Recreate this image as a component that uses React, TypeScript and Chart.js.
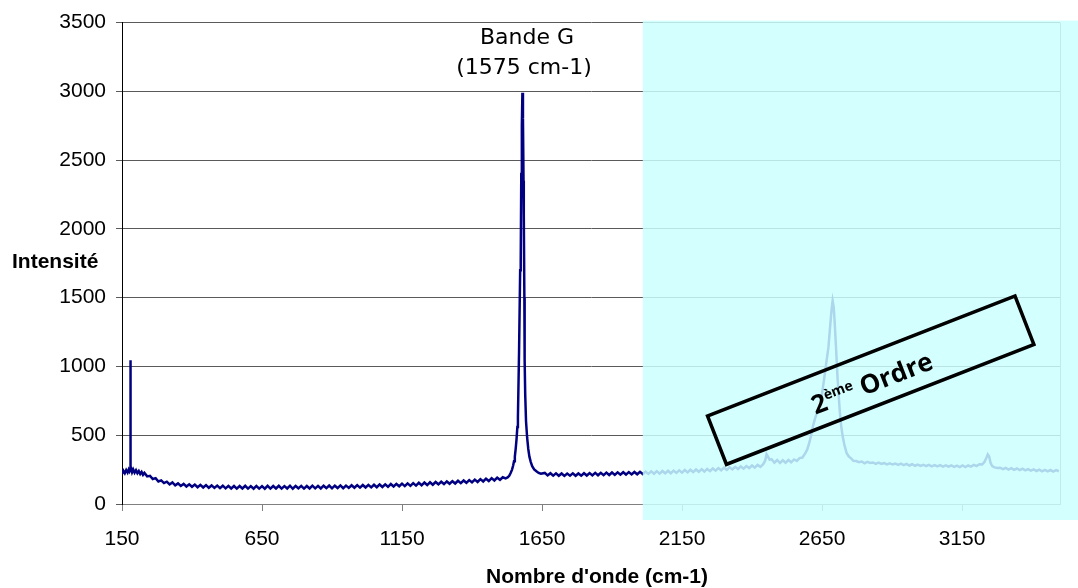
import { useEffect, useRef } from 'react';
import { Chart, registerables } from 'chart.js';

Chart.register(...registerables);

// Raman shift (cm-1)
const wavenumbers: number[] = [
  150, 155, 160, 165, 170, 174, 177, 179, 180, 181,
  183, 186, 190, 195, 200, 205, 210, 215, 220, 225,
  230, 240, 250, 260, 270, 280, 290, 300, 310, 320,
  330, 340, 350, 360, 370, 380, 390, 400, 410, 420,
  430, 440, 450, 460, 470, 480, 490, 500, 510, 520,
  530, 540, 550, 560, 570, 580, 590, 600, 610, 620,
  630, 640, 650, 660, 670, 680, 690, 700, 710, 720,
  730, 740, 750, 760, 770, 780, 790, 800, 810, 820,
  830, 840, 850, 860, 870, 880, 890, 900, 910, 920,
  930, 940, 950, 960, 970, 980, 990, 1000, 1010, 1020,
  1030, 1040, 1050, 1060, 1070, 1080, 1090, 1100, 1110, 1120,
  1130, 1140, 1150, 1160, 1170, 1180, 1190, 1200, 1210, 1220,
  1230, 1240, 1250, 1260, 1270, 1280, 1290, 1300, 1310, 1320,
  1330, 1340, 1350, 1360, 1370, 1380, 1390, 1400, 1410, 1420,
  1430, 1440, 1450, 1460, 1470, 1480, 1490, 1500, 1510,
  1520, 1527, 1533, 1538, 1543, 1547, 1550, 1553, 1556, 1559,
  1562, 1564, 1568, 1572, 1574, 1576, 1578, 1580, 1582, 1584,
  1585, 1587, 1588, 1590, 1593, 1597, 1601, 1605, 1610, 1615,
  1622, 1630, 1638, 1646,
  1660, 1670, 1680, 1690, 1700, 1710, 1720, 1730, 1740, 1750,
  1760, 1770, 1780, 1790, 1800, 1810, 1820, 1830, 1840, 1850,
  1860, 1870, 1880, 1890, 1900, 1910, 1920, 1930, 1940, 1950,
  1960, 1970, 1980, 1990, 2000, 2010, 2020, 2030, 2040, 2050,
  2060, 2070, 2080, 2090, 2100, 2110, 2120, 2130, 2140, 2150,
  2160, 2170, 2180, 2190, 2200, 2210, 2220, 2230, 2240, 2250,
  2260, 2270, 2280, 2290, 2300, 2310, 2320, 2330, 2340, 2350,
  2360, 2370, 2380, 2390, 2400, 2410, 2420, 2430, 2440, 2447,
  2452, 2457, 2463, 2470, 2480, 2490, 2500, 2510, 2520, 2530,
  2540, 2550, 2560, 2570, 2580, 2590, 2597, 2604, 2610, 2617,
  2625, 2632, 2638, 2643, 2650, 2657, 2665, 2673, 2679, 2684,
  2688, 2692, 2695, 2700, 2706, 2710, 2714, 2719, 2724, 2730,
  2738, 2746, 2754, 2762, 2772, 2782, 2792, 2802, 2812, 2822,
  2832, 2842, 2852, 2862, 2872, 2882, 2892, 2902, 2912, 2922,
  2932, 2942, 2952, 2962, 2972, 2982, 2992, 3002, 3012, 3022,
  3032, 3042, 3052, 3062, 3072, 3082, 3092, 3102, 3112, 3122,
  3132, 3142, 3152, 3162, 3172, 3182, 3192, 3202, 3212, 3222,
  3230, 3236, 3242, 3247, 3252, 3258, 3266, 3276, 3286, 3296,
  3306, 3316, 3326, 3336, 3346, 3356, 3366, 3376, 3386, 3396,
  3406, 3416, 3426, 3436, 3446, 3456, 3466, 3476, 3486, 3496,
];

// Intensité (a.u.)
const intensity: number[] = [
  218, 242, 224, 247, 229, 250, 236, 245, 1045, 252,
  256, 231, 251, 228, 246, 224, 240, 218, 233, 212,
  226, 201, 205, 182, 188, 164, 172, 152, 162, 142,
  157, 136, 150, 131, 146, 127, 143, 125, 141, 122,
  139, 120, 137, 118, 135, 117, 134, 115, 133, 114,
  132, 113, 131, 112, 131, 113, 132, 112, 130, 111,
  131, 112, 130, 111, 132, 112, 131, 113, 132, 112,
  130, 113, 133, 111, 131, 114, 132, 112, 131, 113,
  133, 114, 132, 113, 133, 115, 134, 114, 133, 116,
  135, 115, 134, 117, 136, 118, 137, 119, 138, 120,
  139, 121, 140, 122, 142, 124, 143, 125, 145, 127,
  146, 129, 148, 130, 150, 132, 152, 134, 154, 136,
  156, 138, 158, 140, 160, 143, 162, 145, 164, 147,
  166, 149, 169, 152, 171, 154, 174, 157, 177, 160,
  181, 164, 184, 167, 188, 171, 191, 176, 194,
  186, 193, 205, 225, 250, 280, 310, 344, 400, 470,
  560, 630, 1100, 1700, 1760, 2400, 2750, 2990, 2800, 2350,
  2100, 1500, 1045, 800, 600, 480, 400, 344, 305, 275,
  252, 238, 226, 220,
  226, 208, 224, 206, 223, 205, 222, 204, 221, 206,
  223, 205, 222, 206, 224, 207, 225, 208, 226, 209,
  227, 210, 228, 211, 229, 212, 230, 213, 231, 214,
  232, 215, 233, 216, 234, 218, 236, 219, 237, 220,
  239, 221, 240, 223, 242, 224, 243, 226, 245, 228,
  247, 230, 249, 232, 251, 234, 253, 236, 255, 239,
  258, 242, 261, 245, 264, 248, 267, 251, 270, 254,
  273, 257, 276, 261, 280, 264, 284, 270, 290, 315,
  362, 344, 322, 326, 300, 320, 298, 318, 300, 320,
  303, 324, 313, 334, 338, 368, 395, 440, 490, 560,
  620, 665, 700, 720, 800, 900, 1020, 1140, 1290, 1410,
  1478, 1430, 1330, 1140, 900, 780, 660, 560, 490, 430,
  370, 345, 332, 314, 312, 304, 309, 296, 306, 298,
  302, 292, 301, 291, 298, 288, 296, 287, 294, 285,
  293, 282, 291, 280, 289, 278, 287, 277, 285, 276,
  284, 274, 283, 273, 282, 272, 281, 271, 280, 270,
  279, 268, 280, 269, 280, 272, 284, 276, 289, 288,
  305, 330, 360, 345, 300, 275, 266, 262, 264, 254,
  262, 250, 260, 248, 258, 246, 256, 244, 254, 243,
  252, 240, 250, 238, 248, 237, 247, 236, 246, 238,
];

const xTickValues = [150, 650, 1150, 1650, 2150, 2650, 3150];
const yTickValues = [0, 500, 1000, 1500, 2000, 2500, 3000, 3500];
const xRange = [150, 3500];
const yRange = [0, 3500];

const yTitle = 'Intensité';
const xTitle = "Nombre d'onde (cm-1)";
const peakLabel = ['Bande G', '(1575 cm-1)'];
const secondOrderStart = 2010;

const overlayPlugin = {
  id: 'overlayPlugin',
  afterDraw(chart: any) {
    const ctx: CanvasRenderingContext2D = chart.ctx;
    const xs = chart.scales.x;
    const ys = chart.scales.y;
    const area = chart.chartArea;

    ctx.save();
    // right border of plot area
    ctx.strokeStyle = '#808080';
    ctx.lineWidth = 1;
    ctx.beginPath();
    ctx.moveTo(Math.round(area.right) + 0.5, area.top);
    ctx.lineTo(Math.round(area.right) + 0.5, area.bottom);
    ctx.stroke();

    // cyan "second order" region
    const left = xs.getPixelForValue(secondOrderStart);
    ctx.fillStyle = 'rgba(204, 255, 255, 0.84)';
    ctx.fillRect(left, area.top - 2, chart.width - left, area.bottom - area.top + 18);

    // axis titles
    ctx.fillStyle = '#000';
    ctx.font = 'bold 21px "Liberation Sans", Arial, sans-serif';
    ctx.textBaseline = 'alphabetic';
    ctx.textAlign = 'left';
    ctx.fillText(yTitle, 12, 268);
    ctx.textAlign = 'center';
    ctx.fillText(xTitle, 597, 583);

    // Bande G label
    ctx.font = '22px "DejaVu Sans", sans-serif';
    ctx.fillText(peakLabel[0], 527, 44);
    ctx.fillText(peakLabel[1], 524, 74);

    // rotated box "2ème Ordre"
    const cx = xs.getPixelForValue(2824);
    const cy = ys.getPixelForValue(900);
    ctx.translate(cx, cy);
    ctx.rotate((-21.3 * Math.PI) / 180);
    ctx.strokeStyle = '#000';
    ctx.lineWidth = 3.5;
    ctx.strokeRect(-165, -26, 330, 52);

    const big = 'bold 26px "Open Sans", sans-serif';
    const small = 'bold 14px "Open Sans", sans-serif';
    ctx.font = big;
    const w2 = ctx.measureText('2').width;
    const wO = ctx.measureText(' Ordre').width;
    ctx.font = small;
    const wE = ctx.measureText('ème').width;
    const total = w2 + wE + wO;
    let x0 = -total / 2;
    const base = 12;
    ctx.textAlign = 'left';
    ctx.font = big;
    ctx.fillText('2', x0, base);
    x0 += w2;
    ctx.font = small;
    ctx.fillText('ème', x0, base - 10);
    x0 += wE;
    ctx.font = big;
    ctx.fillText(' Ordre', x0, base);
    ctx.restore();
  },
};

export default function App() {
  const ref = useRef<HTMLCanvasElement | null>(null);

  useEffect(() => {
    if (!ref.current) return;
    const n = Math.min(wavenumbers.length, intensity.length);
    const points = wavenumbers.slice(0, n).map((x, i) => ({ x, y: intensity[i] }));
    const chart = new Chart(ref.current, {
      type: 'line',
      data: {
        datasets: [
          {
            data: points,
            borderColor: '#000080',
            borderWidth: 2.5,
            pointRadius: 0,
            tension: 0,
            fill: false,
          },
        ],
      },
      options: {
        animation: false,
        responsive: false,
        maintainAspectRatio: false,
        parsing: false,
        layout: { padding: { top: 20, right: 18, left: 0, bottom: 0 } },
        plugins: { legend: { display: false }, tooltip: { enabled: false } },
        scales: {
          x: {
            type: 'linear',
            min: xRange[0],
            max: xRange[1],
            afterBuildTicks: (s: any) => {
              s.ticks = xTickValues.map((v) => ({ value: v }));
            },
            afterFit: (s: any) => {
              s.height = 84;
            },
            grid: { drawOnChartArea: false, drawTicks: true, tickLength: 7, color: '#808080' },
            border: { color: '#808080', width: 1 },
            ticks: {
              color: '#000',
              font: { family: '"Liberation Sans", Arial, sans-serif', size: 21 },
              padding: 16,
              maxRotation: 0,
              autoSkip: false,
              callback: (v: any) => String(v),
            },
          },
          y: {
            type: 'linear',
            min: yRange[0],
            max: yRange[1],
            afterBuildTicks: (s: any) => {
              s.ticks = yTickValues.map((v) => ({ value: v }));
            },
            afterFit: (s: any) => {
              s.width = 122;
            },
            grid: { color: '#5a5a5a', tickLength: 6 },
            border: { color: '#000', width: 1 },
            ticks: {
              color: '#000',
              font: { family: '"Liberation Sans", Arial, sans-serif', size: 21 },
              padding: 10,
              callback: (v: any) => String(v),
            },
          },
        },
      },
      plugins: [overlayPlugin],
    } as any);
    return () => chart.destroy();
  }, []);

  return (
    <div style={{ position: 'absolute', left: 0, top: 0, width: 1078, height: 588, background: '#fff' }}>
      <canvas ref={ref} width={1078} height={588} style={{ display: 'block' }} />
    </div>
  );
}
